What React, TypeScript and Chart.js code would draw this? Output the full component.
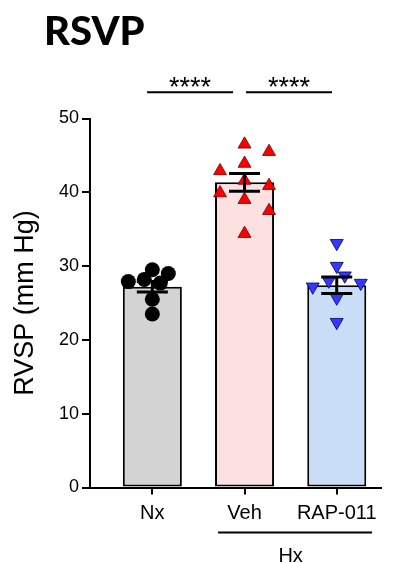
import React, { useEffect, useRef } from 'react';
import { Chart, registerables } from 'chart.js';

Chart.register(...registerables);

// ---- data ----
const titleText = 'RSVP';
const yAxisLabel = 'RVSP (mm Hg)';
const categories = ['Nx', 'Veh', 'RAP-011'];
const groupLabel = 'Hx';
const yTicks = [0, 10, 20, 30, 40, 50];
const means = [27.2, 41.35, 27.4];
const sems = [0.72, 1.2, 1.12];
const nxValues = [29.5, 29.0, 28.2, 27.9, 27.7, 25.5, 23.5];
const vehValues = [46.5, 45.5, 43.9, 42.9, 41.6, 40.9, 39.9, 39.0, 37.5, 34.4];
const rapValues = [33.1, 30.0, 28.7, 28.0, 27.7, 27.2, 25.7, 22.4];
const significanceLabels = ['****', '****'];

const groups = [nxValues, vehValues, rapValues];

// beeswarm arrangement: offsets computed from pixel collisions
function swarmOffsets(pys: number[], step: number, minDist: number): number[] {
  const order = pys.map((_, i) => i).sort((a, b) => pys[a] - pys[b]);
  const placed: { dx: number; py: number }[] = [];
  const out = new Array(pys.length).fill(0);
  let nPos = 0;
  let nNeg = 0;
  for (const i of order) {
    const py = pys[i];
    const free = (dx: number) => placed.every((p) => Math.hypot(p.dx - dx, p.py - py) >= minDist);
    let chosen = 0;
    if (!free(0)) {
      for (let k = 1; k < 60; k++) {
        const first = nNeg < nPos ? -1 : 1;
        if (free(first * k * step)) { chosen = first * k * step; break; }
        if (free(-first * k * step)) { chosen = -first * k * step; break; }
      }
    }
    if (chosen > 0) nPos++;
    else if (chosen < 0) nNeg++;
    placed.push({ dx: chosen, py });
    out[i] = chosen;
  }
  return out;
}

const FONT = "'Liberation Sans', Arial, sans-serif";

const annotationPlugin = {
  id: 'rsvpAnnotations',
  afterDatasetsDraw(chart: any) {
    const { ctx, scales } = chart;
    const x = scales.x;
    const y = scales.y;
    ctx.save();
    ctx.strokeStyle = '#000';
    ctx.lineWidth = 3;
    means.forEach((m, i) => {
      const cx = x.getPixelForValue(i + 1);
      const yTop = y.getPixelForValue(m + sems[i]);
      const yBot = y.getPixelForValue(m - sems[i]);
      ctx.beginPath();
      ctx.moveTo(cx, yTop);
      ctx.lineTo(cx, yBot);
      ctx.moveTo(cx - 15.5, yTop);
      ctx.lineTo(cx + 15.5, yTop);
      ctx.moveTo(cx - 15.5, yBot);
      ctx.lineTo(cx + 15.5, yBot);
      ctx.stroke();
    });
    ctx.restore();
  },
  afterDraw(chart: any) {
    const { ctx, scales, chartArea } = chart;
    const x = scales.x;
    const y = scales.y;
    ctx.save();
    ctx.fillStyle = '#000';
    ctx.strokeStyle = '#000';
    // title
    ctx.font = "900 40px Lato, 'Liberation Sans', sans-serif";
    ctx.textAlign = 'left';
    ctx.textBaseline = 'alphabetic';
    ctx.fillText(titleText, 44, 45);
    // significance brackets
    const spans = [[0.943, 1.876], [2.016, 2.949]];
    const by = y.getPixelForValue(53.55);
    ctx.lineWidth = 2;
    ctx.font = `27px ${FONT}`;
    ctx.textAlign = 'center';
    spans.forEach(([a, b], i) => {
      const x1 = x.getPixelForValue(a);
      const x2 = x.getPixelForValue(b);
      ctx.beginPath();
      ctx.moveTo(x1, by);
      ctx.lineTo(x2, by);
      ctx.stroke();
      ctx.fillText(significanceLabels[i], (x1 + x2) / 2, by + 4);
    });
    // group line + label
    const gy = chartArea.bottom + 45;
    ctx.beginPath();
    ctx.moveTo(x.getPixelForValue(1.713), gy);
    ctx.lineTo(x.getPixelForValue(3.383), gy);
    ctx.stroke();
    ctx.font = `20px ${FONT}`;
    ctx.fillText(groupLabel, x.getPixelForValue(2.5), chartArea.bottom + 74.5);
    ctx.restore();
  },
};

export default function App() {
  const canvasRef = useRef<HTMLCanvasElement | null>(null);

  useEffect(() => {
    const canvas = canvasRef.current;
    if (!canvas) return;
    Chart.defaults.font.family = FONT;
    Chart.defaults.color = '#000';

    const pointStyles = [
      { pointStyle: 'circle', pointRadius: 7.5, pointRotation: 0, bg: '#000000', border: '#000000', bw: 0 },
      { pointStyle: 'triangle', pointRadius: 7.5, pointRotation: 0, bg: '#ff0000', border: '#6b0000', bw: 0.8 },
      { pointStyle: 'triangle', pointRadius: 7.5, pointRotation: 180, bg: '#3737ff', border: '#00005a', bw: 0.8 },
    ];

    const chart = new Chart(canvas, {
      type: 'bar',
      data: {
        datasets: [
          {
            type: 'bar',
            data: means.map((m, i) => ({ x: i + 1, y: m })) as any,
            backgroundColor: ['#d3d3d3', '#fde0e0', '#c9ddf6'],
            borderColor: '#000',
            borderWidth: 2,
            borderSkipped: false,
            barPercentage: 0.64,
            categoryPercentage: 1,
            order: 2,
          } as any,
          ...groups.map((vals, gi) => ({
            type: 'scatter',
            data: vals.map((v) => ({ x: gi + 1, y: v })),
            pointStyle: pointStyles[gi].pointStyle,
            pointRadius: pointStyles[gi].pointRadius,
            pointHoverRadius: pointStyles[gi].pointRadius,
            pointRotation: pointStyles[gi].pointRotation,
            pointBackgroundColor: pointStyles[gi].bg,
            pointBorderColor: pointStyles[gi].border,
            pointBorderWidth: pointStyles[gi].bw,
            showLine: false,
            order: 1,
          } as any)),
        ],
      },
      options: {
        responsive: false,
        animation: false,
        events: [],
        layout: { padding: { left: 0, top: 118.5, right: 16, bottom: 35.5 } },
        plugins: {
          legend: { display: false },
          tooltip: { enabled: false },
          title: { display: false },
        },
        scales: {
          x: {
            type: 'linear',
            min: 0.324,
            max: 3.48,
            offset: false,
            afterBuildTicks: (s: any) => {
              s.ticks = categories.map((_, i) => ({ value: i + 1 }));
            },
            afterFit: (s: any) => { s.height = 40; },
            ticks: {
              callback: (v: any) => categories[Math.round(Number(v)) - 1] ?? '',
              color: '#000',
              font: { size: 20, family: FONT },
              padding: 7,
              maxRotation: 0,
              autoSkip: false,
            },
            grid: { display: true, offset: false, drawOnChartArea: false, drawTicks: true, tickLength: 7, color: '#000', lineWidth: 2 },
            border: { display: true, color: '#000', width: 2 },
          },
          y: {
            type: 'linear',
            min: yTicks[0],
            max: yTicks[yTicks.length - 1],
            afterBuildTicks: (s: any) => {
              s.ticks = yTicks.map((v) => ({ value: v }));
            },
            afterFit: (s: any) => { s.width = 90; },
            ticks: { color: '#000', font: { size: 18, family: FONT }, padding: 3 },
            grid: { display: true, drawOnChartArea: false, drawTicks: true, tickLength: 8, color: '#000', lineWidth: 2 },
            border: { display: true, color: '#000', width: 2 },
            title: {
              display: true,
              text: yAxisLabel,
              color: '#000',
              font: { size: 27, family: FONT },
              padding: { top: 9, bottom: 0 },
            },
          },
        },
      } as any,
      plugins: [annotationPlugin],
    });

    // arrange points as a swarm using the chart's own scales
    const xs: any = chart.scales.x;
    const ys: any = chart.scales.y;
    const unit = xs.getPixelForValue(1) - xs.getPixelForValue(0);
    const steps = [8, 24.5, 8];
    const gaps = [12, 13, 12];
    groups.forEach((vals, gi) => {
      const pys = vals.map((v) => ys.getPixelForValue(v));
      const offs = swarmOffsets(pys, steps[gi], gaps[gi]);
      (chart.data.datasets[gi + 1] as any).data = vals.map((v, i) => ({ x: gi + 1 + offs[i] / unit, y: v }));
    });
    chart.update();

    return () => chart.destroy();
  }, []);

  return (
    <div style={{ position: 'absolute', left: 0, top: 0, width: 397, height: 563, background: '#fff' }}>
      <canvas ref={canvasRef} width={397} height={563} style={{ display: 'block' }} />
    </div>
  );
}
